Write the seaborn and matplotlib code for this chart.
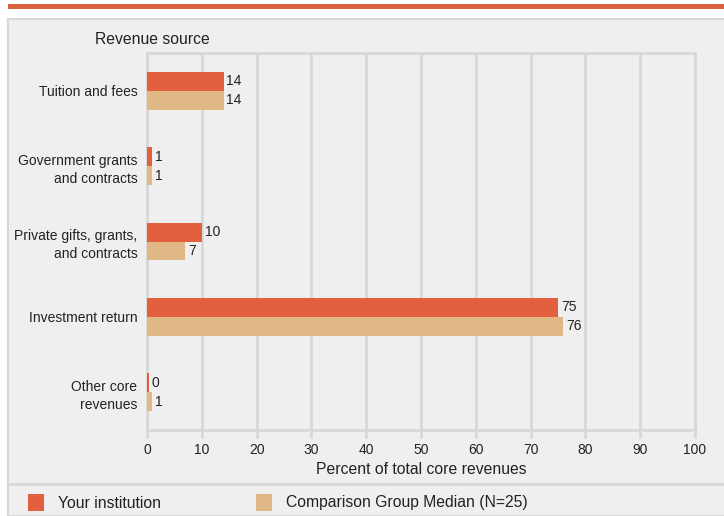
import pandas as pd
import matplotlib
matplotlib.use("Agg")
import matplotlib.pyplot as plt
from matplotlib.patches import Rectangle
from matplotlib.lines import Line2D
import seaborn as sns

# data
categories = ["Tuition and fees", "Government grants\nand contracts",
              "Private gifts, grants,\nand contracts", "Investment return",
              "Other core\nrevenues"]
your_institution = [14, 1, 10, 75, 0.4]
your_labels = ["14", "1", "10", "75", "0"]
group_median = [14, 1, 7, 76, 1]
median_labels = ["14", "1", "7", "76", "1"]
series_names = ["Your institution", "Comparison Group Median (N=25)"]
colors = ["#e3603f", "#dfb886"]
x_ticks = [0, 10, 20, 30, 40, 50, 60, 70, 80, 90, 100]

df = pd.DataFrame({
    "source": categories * 2,
    "value": your_institution + group_median,
    "series": [series_names[0]] * 5 + [series_names[1]] * 5,
})

sns.set_style("white")
plt.rcParams["font.family"] = ["Liberation Sans", "DejaVu Sans"]

W, H = 724, 516
fig = plt.figure(figsize=(W / 100, H / 100), dpi=100)
fig.patch.set_facecolor("white")

# background panel, top rule, legend separator
grey_line = "#d8d8d8"
fig.patches.append(Rectangle((8 / W, 0), 1, 1 - 19 / H, transform=fig.transFigure,
                             facecolor="#efefef", edgecolor=grey_line, lw=1.5, zorder=-5))
fig.patches.append(Rectangle((8 / W, 1 - 9 / H), 1, 5 / H, transform=fig.transFigure,
                             facecolor="#d9623f", edgecolor="none", zorder=-5))
fig.lines.append(Line2D([8 / W, 1], [1 - 484 / H, 1 - 484 / H], transform=fig.transFigure,
                        color=grey_line, lw=2, zorder=-4))

ax = fig.add_axes([147 / W, 1 - 430 / H, (695 - 147) / W, (430 - 53) / H])
ax.set_facecolor("none")
ax.set_zorder(2)

sns.barplot(data=df, x="value", y="source", hue="series", orient="h",
            palette=colors, width=0.5, saturation=1, legend=False, ax=ax,
            linewidth=0, zorder=3)

for cont, labels in zip(ax.containers, [your_labels, median_labels]):
    ax.bar_label(cont, labels=labels, padding=2, fontsize=10, color="#222222")

ax.set_xlim(0, 100)
ax.set_ylim(4.5, -0.5)
ax.set_xticks(x_ticks)
ax.grid(axis="x", color=grey_line, lw=2, zorder=0)
ax.grid(axis="y", visible=False)
ax.set_axisbelow(True)
for s in ax.spines.values():
    s.set_color(grey_line)
    s.set_linewidth(2)
ax.tick_params(axis="x", length=6, width=2, color=grey_line, labelsize=10,
               labelcolor="#222222", pad=3, bottom=True)
ax.tick_params(axis="y", length=0, labelsize=10, labelcolor="#222222", pad=7)
for t in ax.get_yticklabels():
    t.set_linespacing(1.4)
ax.set_xlabel("Percent of total core revenues", fontsize=11.3, color="#222222", labelpad=4)
ax.set_ylabel("")

fig.text(95 / W, 1 - 39 / H, "Revenue source", fontsize=11.3, color="#222222",
         ha="left", va="center")

# legend
for i, (name, c) in enumerate(zip(series_names, colors)):
    x0 = [28, 256][i]
    fig.patches.append(Rectangle((x0 / W, 1 - 511 / H), 16 / W, 17 / H,
                                 transform=fig.transFigure, facecolor=c, edgecolor="none"))
    fig.text((x0 + 30) / W, 1 - 503 / H, name, fontsize=11.3, color="#222222",
             ha="left", va="center")

fig.savefig("out.png", dpi=100)
